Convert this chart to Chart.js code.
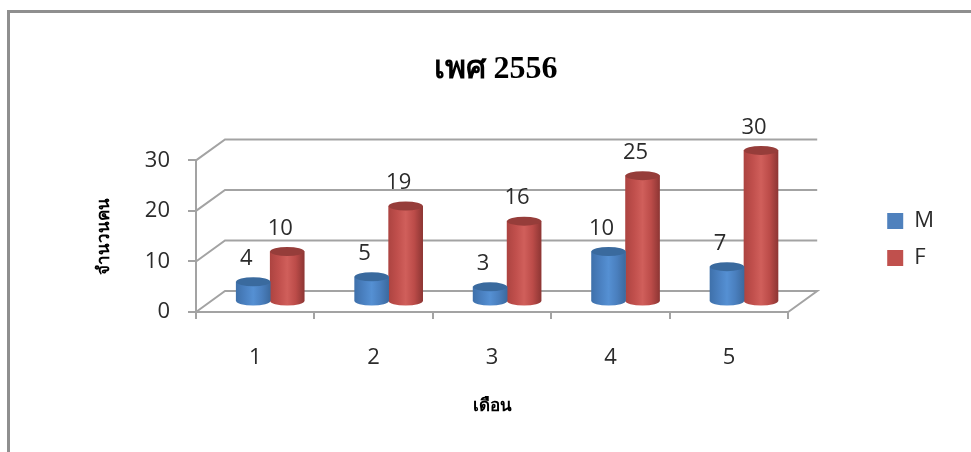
<!DOCTYPE html>
<html lang="th">
<head>
<meta charset="utf-8">
<title>เพศ 2556</title>
<script src="https://cdn.jsdelivr.net/npm/chart.js@4"></script>
<style>
  html, body { margin: 0; padding: 0; background: #fff; overflow: hidden; }
  #frame { position: absolute; left: 7px; top: 10px; right: 0; bottom: 0; border-left: 3px solid #8f8f8f; border-top: 3px solid #8f8f8f; }
  #genderChart { position: absolute; left: 0; top: 0; }
</style>
</head>
<body>
<div id="frame"></div>
<canvas id="genderChart" width="971" height="452"></canvas>
<script>
/* ---- data ---- */
const months = ["1", "2", "3", "4", "5"];
const maleCounts = [4, 5, 3, 10, 7];
const femaleCounts = [10, 19, 16, 25, 30];
const countTicks = [0, 10, 20, 30];

/* ---- look ---- */
const GRID = "#a3a3a3";
const TEXT = "#2b2b2b";
const TICK_FONT = "'Open Sans', sans-serif";
const BAR_W = 34;
const DEPTH_X = 29, DEPTH_Y = -21;   // back wall offset
const BAR_X = 15, BAR_Y = -10;       // bars stand in the middle of the floor
const CAP_RY = 4.5;

const shades = [
  { flat: "#4f81bd", cap: "#3a6a9e", stops: ["#3f71ab", "#4a80c0", "#5590d3", "#4a7fbe", "#3c6a9f"] },
  { flat: "#c0504d", cap: "#963d3a", stops: ["#ad4441", "#c04f4c", "#d05f5b", "#bc4c49", "#8e3634"] }
];

function barGradient(ctx, left, shade) {
  const g = ctx.createLinearGradient(left, 0, left + BAR_W, 0);
  shade.stops.forEach((c, i) => g.addColorStop(i / (shade.stops.length - 1), c));
  return g;
}

function barFill(c) {
  const shade = shades[c.datasetIndex];
  const center = c.chart.scales.x.getPixelForValue(c.dataIndex);
  if (!isFinite(center)) return shade.flat;          // scales not laid out yet
  const left = center + (c.datasetIndex - 1) * BAR_W;
  return barGradient(c.chart.ctx, left, shade);
}

/* ---- fake 3D: walls, floor, cylinder ends, value labels ---- */
const cylinder3d = {
  id: "cylinder3d",
  beforeDatasetsDraw(chart) {
    const { ctx, chartArea: area, scales: { y } } = chart;
    ctx.save();
    ctx.strokeStyle = GRID;
    ctx.lineWidth = 2;
    countTicks.forEach(v => {
      const py = y.getPixelForValue(v);
      ctx.beginPath();
      ctx.moveTo(area.left, py);
      ctx.lineTo(area.left + DEPTH_X, py + DEPTH_Y);
      ctx.lineTo(area.right + DEPTH_X, py + DEPTH_Y);
      if (v === 0) ctx.lineTo(area.right, py);
      ctx.stroke();
    });
    ctx.restore();

    ctx.save();
    ctx.translate(BAR_X, BAR_Y);
  },
  afterDatasetsDraw(chart) {
    const { ctx } = chart;
    chart.data.datasets.forEach((ds, di) => {
      const shade = shades[di];
      chart.getDatasetMeta(di).data.forEach(bar => {
        const left = bar.x - BAR_W / 2;
        ctx.fillStyle = barGradient(ctx, left, shade);
        ctx.beginPath();
        ctx.ellipse(bar.x, bar.base, BAR_W / 2, CAP_RY, 0, 0, Math.PI);
        ctx.fill();
        ctx.fillStyle = shade.cap;
        ctx.beginPath();
        ctx.ellipse(bar.x, bar.y, BAR_W / 2, CAP_RY, 0, 0, Math.PI * 2);
        ctx.fill();
      });
    });
    ctx.fillStyle = TEXT;
    ctx.font = "22px " + TICK_FONT;
    ctx.textAlign = "center";
    ctx.textBaseline = "middle";
    chart.data.datasets.forEach((ds, di) => {
      chart.getDatasetMeta(di).data.forEach((bar, i) => {
        ctx.fillText(ds.data[i], bar.x - 7, bar.y - 23);
      });
    });
    ctx.restore();
  }
};

new Chart(document.getElementById("genderChart"), {
  type: "bar",
  data: {
    labels: months,
    datasets: [
      { label: "M", data: maleCounts, backgroundColor: barFill, barThickness: BAR_W, clip: false },
      { label: "F", data: femaleCounts, backgroundColor: barFill, barThickness: BAR_W, clip: false }
    ]
  },
  plugins: [cylinder3d],
  options: {
    responsive: false,
    animation: false,
    layout: { padding: { left: 47, right: 27, top: 27, bottom: 0 } },
    plugins: {
      tooltip: { enabled: false },
      title: {
        display: true,
        text: "เพศ 2556",
        color: "#000",
        font: { family: "'Liberation Serif', serif", size: 32, weight: "bold" },
        padding: { top: 24, bottom: 71 }
      },
      legend: {
        position: "right",
        labels: {
          color: TEXT,
          boxWidth: 16,
          boxHeight: 16,
          padding: 15,
          font: { family: TICK_FONT, size: 22 },
          generateLabels(chart) {
            const items = Chart.defaults.plugins.legend.labels.generateLabels(chart);
            items.forEach((item, i) => {
              item.fillStyle = shades[i].flat;
              item.lineWidth = 0;
            });
            return items;
          }
        }
      }
    },
    scales: {
      x: {
        grid: { drawOnChartArea: false, color: GRID, lineWidth: 2, tickLength: 7 },
        border: { color: GRID, width: 2 },
        ticks: { color: TEXT, padding: 26, font: { family: TICK_FONT, size: 22 } },
        title: {
          display: true,
          text: "เดือน",
          color: "#000",
          font: { family: "'Noto Sans', sans-serif", size: 17, weight: "bold" },
          padding: { top: 0, bottom: 36 }
        },
        afterFit(s) { s.height = 140; }
      },
      y: {
        min: 0,
        max: 30,
        grid: { drawOnChartArea: false, color: GRID, lineWidth: 2, tickLength: 8 },
        border: { color: GRID, width: 2 },
        ticks: {
          color: TEXT,
          padding: 18,
          stepSize: 10,
          font: { family: TICK_FONT, size: 22 }
        },
        title: {
          display: true,
          text: "จำนวนคน",
          color: "#000",
          font: { family: "'Noto Sans', sans-serif", size: 17, weight: "bold" },
          padding: { top: 47, bottom: 0 }
        },
        afterFit(s) { s.width = 149; }
      },
      // empty axis, keeps the gap between the plot and the legend
      legendGap: {
        position: "right",
        grid: { display: false },
        border: { display: false },
        ticks: { display: false },
        afterFit(s) { s.width = 84; }
      }
    }
  }
});
</script>
</body>
</html>
